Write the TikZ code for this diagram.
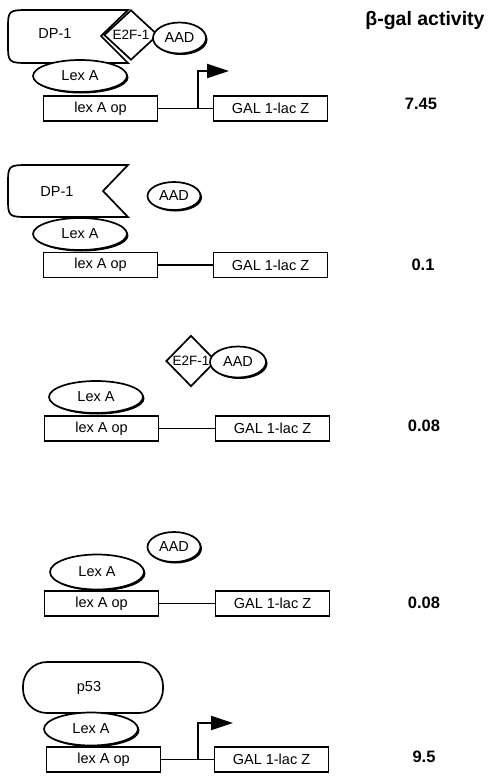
\documentclass[tikz,border=0pt]{standalone}
\usepackage{fontspec}
\setmainfont{Liberation Sans}
\usetikzlibrary{shapes.geometric,shadows,arrows.meta}

\tikzset{
  lbl/.style={font=\fontsize{14.5}{16}\selectfont},
  protein/.style={draw, fill=white, line width=1.7pt},
  lexa/.style={protein, ellipse, inner sep=0pt, minimum width=94pt, minimum height=32pt, lbl,
    drop shadow={shadow xshift=1.5pt, shadow yshift=-1.5pt, opacity=1, fill=black}},
  aad/.style={lexa, minimum width=53pt, minimum height=31pt},
  e2f/.style={protein, diamond, inner sep=0pt, minimum width=54pt, minimum height=50pt,
    font=\fontsize{13.5}{15}\selectfont},
  dnabox/.style={draw, line width=1.7pt, minimum width=114pt, minimum height=25pt, inner sep=0pt, lbl},
  dnaline/.style={line width=1.6pt},
  promoter/.style={line width=2pt, -{Triangle[length=22pt,width=14pt]}},
  activity/.style={font=\bfseries\fontsize{16.5}{18}\selectfont},
}

\begin{document}
\begin{tikzpicture}[x=1pt,y=-1pt]
  \useasboundingbox (0,0) rectangle (492,777);

  % Header
  \node[font=\bfseries\fontsize{19.5}{21}\selectfont] (header) at (425,20) {β-gal activity};

  % Row 1: DP-1 + E2F-1 AAD
  \draw[protein] (128,10) -- (30,10) .. controls (8,10) .. (8,30) -- (8,43)
    .. controls (8,63) .. (30,63) -- (128,63) -- (101,36) -- cycle;
  \node[lbl] (dp1_1) at (55,34) {DP-1};
  \node[e2f] (e2f1_1) at (131,35) {E2F-1};
  \node[aad] (aad_1) at (179.5,38) {AAD};
  \node[lexa] (lexa_1) at (80,76) {Lex A};
  \node[dnabox] (lexa_op1) at (100.5,108.5) {lex A op};
  \node[dnabox] (gal_lacz1) at (270.5,108.5) {GAL 1-lac Z};
  \coordinate (tss1) at (198,108.5);
  \node[activity] (act1) at (421,104) {7.45};

  % Row 2: DP-1 + AAD
  \draw[protein] (128,165) -- (30,165) .. controls (8,165) .. (8,185) -- (8,197)
    .. controls (8,217) .. (30,217) -- (128,217) -- (103,191) -- cycle;
  \node[lbl] (dp1_2) at (57,192) {DP-1};
  \node[aad, minimum height=28pt] (aad_2) at (174,196) {AAD};
  \node[lexa] (lexa_2) at (80,234) {Lex A};
  \node[dnabox] (lexa_op2) at (100.5,265) {lex A op};
  \node[dnabox] (gal_lacz2) at (270.5,265) {GAL 1-lac Z};
  \node[activity] (act2) at (423,265) {0.1};

  % Row 3: E2F-1 AAD alone
  \node[e2f, minimum width=50pt, minimum height=51pt] (e2f1_3) at (191,361) {E2F-1};
  \node[aad, minimum width=56pt] (aad_3) at (238,362) {AAD};
  \node[lexa] (lexa_3) at (96,397) {Lex A};
  \node[dnabox] (lexa_op3) at (101.5,428.5) {lex A op};
  \node[dnabox] (gal_lacz3) at (272.5,428.5) {GAL 1-lac Z};
  \node[activity] (act3) at (424,426) {0.08};

  % Row 4: AAD alone
  \node[aad, minimum height=30pt] (aad_4) at (174,547) {AAD};
  \node[lexa, minimum height=35pt] (lexa_4) at (97,572) {Lex A};
  \node[dnabox] (lexa_op4) at (101.5,603.5) {lex A op};
  \node[dnabox] (gal_lacz4) at (272.5,603.5) {GAL 1-lac Z};
  \node[activity] (act4) at (424,603) {0.08};

  % Row 5: p53
  \draw[protein, rounded corners=24pt] (23,662) rectangle (163,713);
  \node[lbl] (p53) at (89,688) {p53};
  \node[lexa, minimum height=33pt] (lexa_5) at (91,729) {Lex A};
  \node[dnabox] (lexa_op5) at (103.5,759.5) {lex A op};
  \node[dnabox] (gal_lacz5) at (271.5,759.5) {GAL 1-lac Z};
  \coordinate (tss5) at (198,759.5);
  \node[activity] (act5) at (424,757) {9.5};

  % Lines
  \draw[dnaline] (lexa_op1) -- (gal_lacz1);
  \draw[dnaline] (lexa_op2) -- (gal_lacz2);
  \draw[dnaline] (lexa_op3) -- (gal_lacz3);
  \draw[dnaline] (lexa_op4) -- (gal_lacz4);
  \draw[dnaline] (lexa_op5) -- (gal_lacz5);

  % Arrows
  \draw[promoter] (tss1) |- (229,71);
  \draw[promoter] (tss5) |- (233,723);
\end{tikzpicture}
\end{document}
